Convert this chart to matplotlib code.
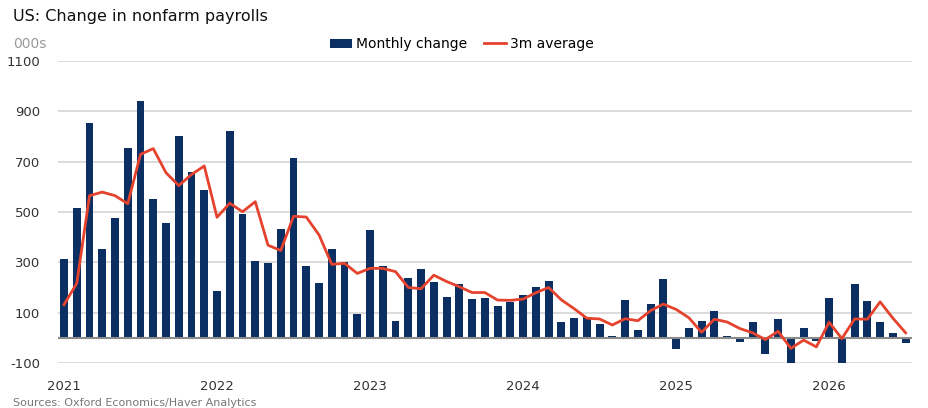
import numpy as np
import pandas as pd
import matplotlib
matplotlib.use("Agg")
import matplotlib.pyplot as plt
from matplotlib.patches import Patch
from matplotlib.lines import Line2D

plt.rcParams["font.family"] = ["DejaVu Sans"]

# monthly data, Jan 2021 - Jul 2026 (000s)
months = pd.date_range("2021-01-01", "2026-07-01", freq="MS")

monthly_change = [
    312, 516, 853, 353, 477, 756, 943, 552, 455, 800, 659, 588,   # 2021
    187, 820, 491, 305, 299, 432, 713, 287, 219, 353, 301, 96,    # 2022
    429, 286, 66, 237, 275, 221, 161, 214, 154, 157, 125, 143,    # 2023
    172, 203, 225, 62, 78, 84, 53, 8, 151, 33, 133, 234,          # 2024
    -46, 39, 66, 107, 9, -18, 62, -66, 74, -101, 39, -14,         # 2025
    157, -101, 212, 145, 62, 20, -22,                             # 2026
]

avg_3m = [
    132, 216, 565, 579, 565, 533, 729, 752, 656, 605, 649, 683,
    479, 535, 501, 541, 368, 347, 483, 480, 409, 292, 296, 256,
    276, 276, 263, 200, 195, 249, 224, 203, 180, 180, 150, 149,
    154, 179, 200, 151, 116, 78, 75, 51, 76, 68, 108, 134,
    113, 80, 22, 74, 63, 37, 20, -7, 26, -42, -9, -36,
    62, -3, 75, 74, 143, 78, 20,
]

y_ticks = [-100, 100, 300, 500, 700, 900, 1100]
year_labels = ["2021", "2022", "2023", "2024", "2025", "2026"]

bar_color = "#0b2f63"
line_color = "#e5432d"

fig = plt.figure(figsize=(9.29, 4.08), dpi=100)
ax = fig.add_axes([58 / 929, 1 - 363 / 408, (912 - 58) / 929, (363 - 61) / 408])

x = np.arange(len(months))
ax.bar(x, monthly_change, width=0.62, color=bar_color, zorder=2)
ax.plot(x, avg_3m, color=line_color, linewidth=2, zorder=3)

ax.set_xlim(-0.47, len(months) - 0.5)
ax.set_ylim(-100, 1100)
ax.set_yticks(y_ticks)
ax.set_yticklabels([str(v) for v in y_ticks])
ax.grid(axis="y", color="#d4d4d4", linewidth=1.2, zorder=0)
ax.axhline(0, color="#8a8a8a", linewidth=1.5, zorder=2.5)

year_pos = [i for i, m in enumerate(months) if m.month == 1]
ax.set_xticks(year_pos)
ax.set_xticklabels(year_labels)

for s in ax.spines.values():
    s.set_visible(False)
ax.tick_params(axis="both", length=0, labelsize=10, labelcolor="#333333")
ax.tick_params(axis="y", pad=13, labelsize=9.5)
ax.tick_params(axis="x", pad=12, labelsize=9.5)

fig.text(13 / 929, 1 - 16 / 408, "US: Change in nonfarm payrolls", fontsize=11.5,
         color="#111111", va="center", ha="left")
fig.text(13 / 929, 1 - 44 / 408, "000s", fontsize=10, color="#9a9a9a",
         va="center", ha="left")
fig.text(13 / 929, 1 - 398 / 408, "Sources: Oxford Economics/Haver Analytics",
         fontsize=8, color="#777777", va="top", ha="left")

handles = [
    Patch(facecolor=bar_color, label="Monthly change"),
    Line2D([0], [0], color=line_color, linewidth=2, label="3m average"),
]
fig.legend(handles=handles, loc="center", bbox_to_anchor=(462 / 929, 1 - 44 / 408),
           ncol=2, frameon=False, fontsize=10, handlelength=1.6, handleheight=0.6,
           handletextpad=0.3, columnspacing=1.2)

fig.savefig("out.png", dpi=100)
